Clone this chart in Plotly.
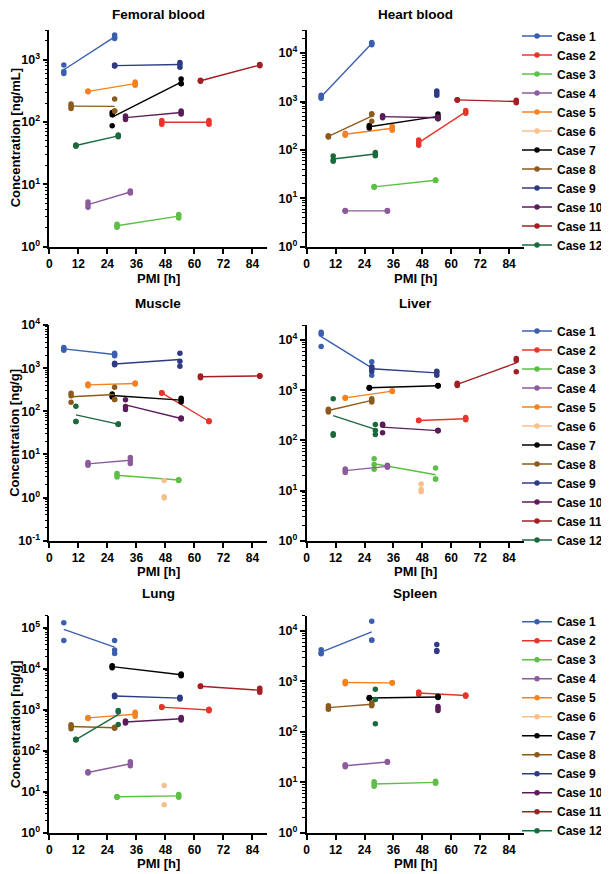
import math
import plotly.graph_objects as go

OFF = 8                      # page body margin of the html page
W, H = 609 - OFF, 874 - OFF

CASES = [f"Case {i}" for i in range(1, 13)]
COLORS = ["#3b5fae", "#e8352b", "#5cbf46", "#8b5b9c", "#f58220", "#f8c08b",
          "#000000", "#8d5a1e", "#2f3a84", "#5a1d5a", "#a31f24", "#1b6a3c"]

# PMI [h] of the two samplings of each case
PMI_A = [6, 46.5, 28, 16, 16, 47.5, 26, 9, 27, 31.5, 62.5, 11]
PMI_B = [27, 66, 53.5, 33.5, 35.5, None, 54.5, 27, 54, 54.5, 87, 28.5]

# replicate concentrations at PMI_A / PMI_B (None = not measured)
FEMORAL_A = [[820, 650, 600], [106, 100, 92], [2.3, 2.15, 2.05], [5.2, 4.7, 4.3],
             [315, 310, 305], None, [142, 131, 87], [195, 180, 165],
             [820, 800, 790], [125, 118, 110], [470, 460, 450], [43, 42, 41]]
FEMORAL_B = [[2500, 2300, 2200], [106, 100, 92], [3.3, 3.1, 2.9], [7.8, 7.5, 7.3],
             [440, 410, 390], None, [490, 415, 410], [235, 150, 150],
             [900, 850, 760], [150, 142, 135], [840, 820, 800], [62, 60, 58]]

HEART_A = [[1350, 1250, 1170], [160, 140, 125], [17.5, 17.2, 17.0], [5.6, 5.5, 5.4],
           [220, 210, 200], None, [320, 300, 285], [195, 190, 185],
           None, [510, 490, 460], [1090, 1080, 1070], [75, 62, 58]]
HEART_B = [[16600, 15800, 14800], [650, 610, 570], [24, 23.6, 23.3], [5.6, 5.5, 5.4],
           [305, 280, 255], None, [550, 490, 440], [560, 540, 390],
           [1650, 1500, 1350], [480, 460, 445], [1060, 1000, 940], [88, 82, 76]]

MUSCLE_A = [[3000, 2800, 2600], [270, 265, 265], [3.6, 3.3, 3.0], [6.5, 6.0, 5.6],
            [430, 410, 390], [2.5, 1.05, 0.98], [250, 230, 215], [262, 228, 163],
            [1300, 1250, 1200], [184, 129, 110], [660, 630, 600], [131, 58, 58]]
MUSCLE_B = [[2200, 2050, 1950], [60, 58, 58], [2.6, 2.55, 2.5], [8.5, 7.2, 6.2],
            [450, 440, 430], None, [200, 180, 165], [361, 187, 187],
            [2200, 1450, 1100], [70, 68, 66], [670, 660, 650], [51, 50, 50]]

LIVER_A = [[14400, 13150, 7480], [252, 250, 248], [43, 33, 26.5], [27, 25, 23],
           [720, 700, 690], [13.5, 10.5, 9.5], [1140, 1120, 1100], [420, 395, 370],
           [2950, 2700, 2400], [210, 200, 142], [1380, 1300, 1250], [673, 135, 126]]
LIVER_B = [[3700, 2700, 2000], [285, 270, 258], [28, 17, 17], [32, 30, 29],
           [980, 960, 940], None, [1250, 1230, 1210], [680, 630, 580],
           [2400, 2250, 2000], [160, 155, 155], [4300, 3900, 2350], [208, 158, 131]]

LUNG_A = [[135000, 50000], [1200, 1180, 1160], [7.8, 7.6, 7.5], [31, 30, 29],
          [660, 640, 625], [14.5, 4.9], [12000, 11500, 10800], [440, 400, 350],
          [2300, 2200, 2100], [540, 510, 480], [3850, 3800, 3750], [195, 190, 185]]
LUNG_B = [[50000, 29000, 24000], [1050, 1000, 960], [8.7, 8.0, 7.5], [55, 48, 44],
          [880, 780, 700], None, [7600, 7200, 6900], [380, 370, 360],
          [2050, 1950, 1850], [660, 610, 570], [3400, 3000, 2700], [980, 900, 445]]

SPLEEN_A = [[4250, 3650, 3550], [620, 590, 560], [10.3, 9.3, 8.4], [22.5, 21.5, 20.5],
            [1000, 950, 900], None, [480, 470, 460], [330, 300, 280],
            None, None, None, None]
SPLEEN_B = [[15600, 6600, 6500], [540, 525, 510], [10.6, 10.0, 9.6], [26, 25.5, 25],
            [950, 940, 920], None, [510, 490, 480], [380, 350, 330],
            [5400, 4100, 3900], [320, 290, 265], None, [697, 441, 145]]

TITLES = ["Femoral blood", "Heart blood", "Muscle", "Liver", "Lung", "Spleen"]
X_TITLE = "PMI [h]"
Y_TITLES = ["Concentration [ng/mL]", None, "Concentration [ng/g]", None, "Concentration [ng/g]", None]
Y_MIN_EXP = [0, 0, -1, 0, 0, 0]
Y_MAX = [3000, 30000, 10000, 20000, 200000, 20000]
X_TICKS = [0, 12, 24, 36, 48, 60, 72, 84]

PANELS = [(FEMORAL_A, FEMORAL_B), (HEART_A, HEART_B), (MUSCLE_A, MUSCLE_B),
          (LIVER_A, LIVER_B), (LUNG_A, LUNG_B), (SPLEEN_A, SPLEEN_B)]

# layout geometry (screen pixels)
X_DOM_PX = [(49.3, 267.0), (306.7, 523.5)]
Y_DOM_PX = [(30.0, 246.7), (325.0, 540.7), (615.7, 833.0)]
TITLE_SHIFT = [15, 22, 22]
XTITLE_SHIFT = [-31.5, -31, -30]
YTITLE_X_PX = 15
LEGEND_X_PX = 517


def fx(px):
    return (px - OFF) / W


def fy(py):
    return 1 - (py - OFF) / H


FONT = "Arial, Liberation Sans, sans-serif"

fig = go.Figure()
layout = dict(width=W, height=H, margin=dict(l=0, r=0, t=0, b=0, autoexpand=False),
              plot_bgcolor="white", paper_bgcolor="white",
              font=dict(family=FONT, size=13, color="black", weight="bold"),
              annotations=[])

for p, (A, B) in enumerate(PANELS):
    row, col = divmod(p, 2)
    ax = "" if p == 0 else str(p + 1)
    xd = [fx(X_DOM_PX[col][0]), fx(X_DOM_PX[col][1])]
    yd = [fy(Y_DOM_PX[row][1]), fy(Y_DOM_PX[row][0])]
    top_exp = math.log10(Y_MAX[p])
    exps = list(range(Y_MIN_EXP[p], int(math.floor(top_exp + 1e-9)) + 1))
    majors = [10.0 ** e for e in exps]
    minors = [m * 10.0 ** e for e in range(Y_MIN_EXP[p], int(math.ceil(top_exp)))
              for m in range(2, 10) if m * 10.0 ** e <= Y_MAX[p] * 1.0001]
    ticktext = [f"10<sup>{e}</sup>" for e in exps]
    layout["xaxis" + ax] = dict(
        domain=xd, anchor="y" + ax, range=[0, 90], tickmode="array", tickvals=X_TICKS,
        showline=True, linecolor="black", linewidth=1.6, ticks="outside", ticklen=5,
        tickwidth=1.6, tickcolor="black", showgrid=False, zeroline=False,
        tickfont=dict(family=FONT, size=12, weight="bold"))
    layout["yaxis" + ax] = dict(
        domain=yd, anchor="x" + ax, type="log", range=[Y_MIN_EXP[p], top_exp],
        tickmode="array", tickvals=majors, ticktext=ticktext,
        showline=True, linecolor="black", linewidth=1.6, ticks="outside", ticklen=5,
        tickwidth=1.6, tickcolor="black", showgrid=False, zeroline=False,
        tickfont=dict(family=FONT, size=12.5, weight="bold"),
        minor=dict(tickmode="array", tickvals=minors, ticks="outside", ticklen=3,
                   tickwidth=1, tickcolor="black", showgrid=False))
    # panel title
    layout["annotations"].append(dict(
        text=TITLES[p], xref="paper", yref="paper", x=(xd[0] + xd[1]) / 2, y=yd[1],
        yshift=TITLE_SHIFT[row], showarrow=False, xanchor="center", yanchor="middle",
        font=dict(family=FONT, size=13.5, weight="bold")))
    # x-axis title
    layout["annotations"].append(dict(
        text=X_TITLE, xref="paper", yref="paper", x=(xd[0] + xd[1]) / 2, y=yd[0],
        yshift=XTITLE_SHIFT[row], showarrow=False, xanchor="center", yanchor="middle",
        borderpad=0, font=dict(family=FONT, size=13, weight="bold")))
    # y-axis title
    if Y_TITLES[p]:
        layout["annotations"].append(dict(
            text=Y_TITLES[p], xref="paper", yref="paper", x=fx(YTITLE_X_PX),
            y=(yd[0] + yd[1]) / 2, textangle=-90, showarrow=False, xanchor="center",
            yanchor="middle", borderpad=0, font=dict(family=FONT, size=13, weight="bold")))

    for i in range(12):
        xs, ys, mx, my = [], [], [], []
        for pmi, vals in ((PMI_A[i], A[i]), (PMI_B[i], B[i])):
            if vals is None or pmi is None:
                continue
            xs += [pmi] * len(vals)
            ys += list(vals)
            mx.append(pmi)
            my.append(sum(vals) / len(vals))
        if not xs:
            continue
        if len(mx) > 1:
            fig.add_trace(go.Scatter(x=mx, y=my, mode="lines", xaxis="x" + ax, yaxis="y" + ax,
                                     line=dict(color=COLORS[i], width=1.4), showlegend=False,
                                     hoverinfo="skip"))
        fig.add_trace(go.Scatter(x=xs, y=ys, mode="markers", xaxis="x" + ax, yaxis="y" + ax,
                                 marker=dict(color=COLORS[i], size=5.5), showlegend=False,
                                 cliponaxis=False, name=CASES[i]))

# one legend per row
LEG_NAMES = ["legend", "legend2", "legend3"]
for r, lname in enumerate(LEG_NAMES):
    top_px = Y_DOM_PX[r][0] - 8.5
    layout[lname] = dict(x=fx(LEGEND_X_PX), xanchor="left", y=fy(top_px), yanchor="top",
                         font=dict(family=FONT, size=12, weight="bold"),
                         bgcolor="rgba(0,0,0,0)", borderwidth=0)
    ax = "" if r == 0 else str(2 * r + 1)
    for i in range(12):
        fig.add_trace(go.Scatter(x=[None], y=[None], mode="lines+markers", name=CASES[i],
                                 xaxis="x" + ax, yaxis="y" + ax, legend=lname,
                                 line=dict(color=COLORS[i], width=1.4),
                                 marker=dict(color=COLORS[i], size=5.5), showlegend=True))

fig.update_layout(**layout)
fig.write_html("out.html")
